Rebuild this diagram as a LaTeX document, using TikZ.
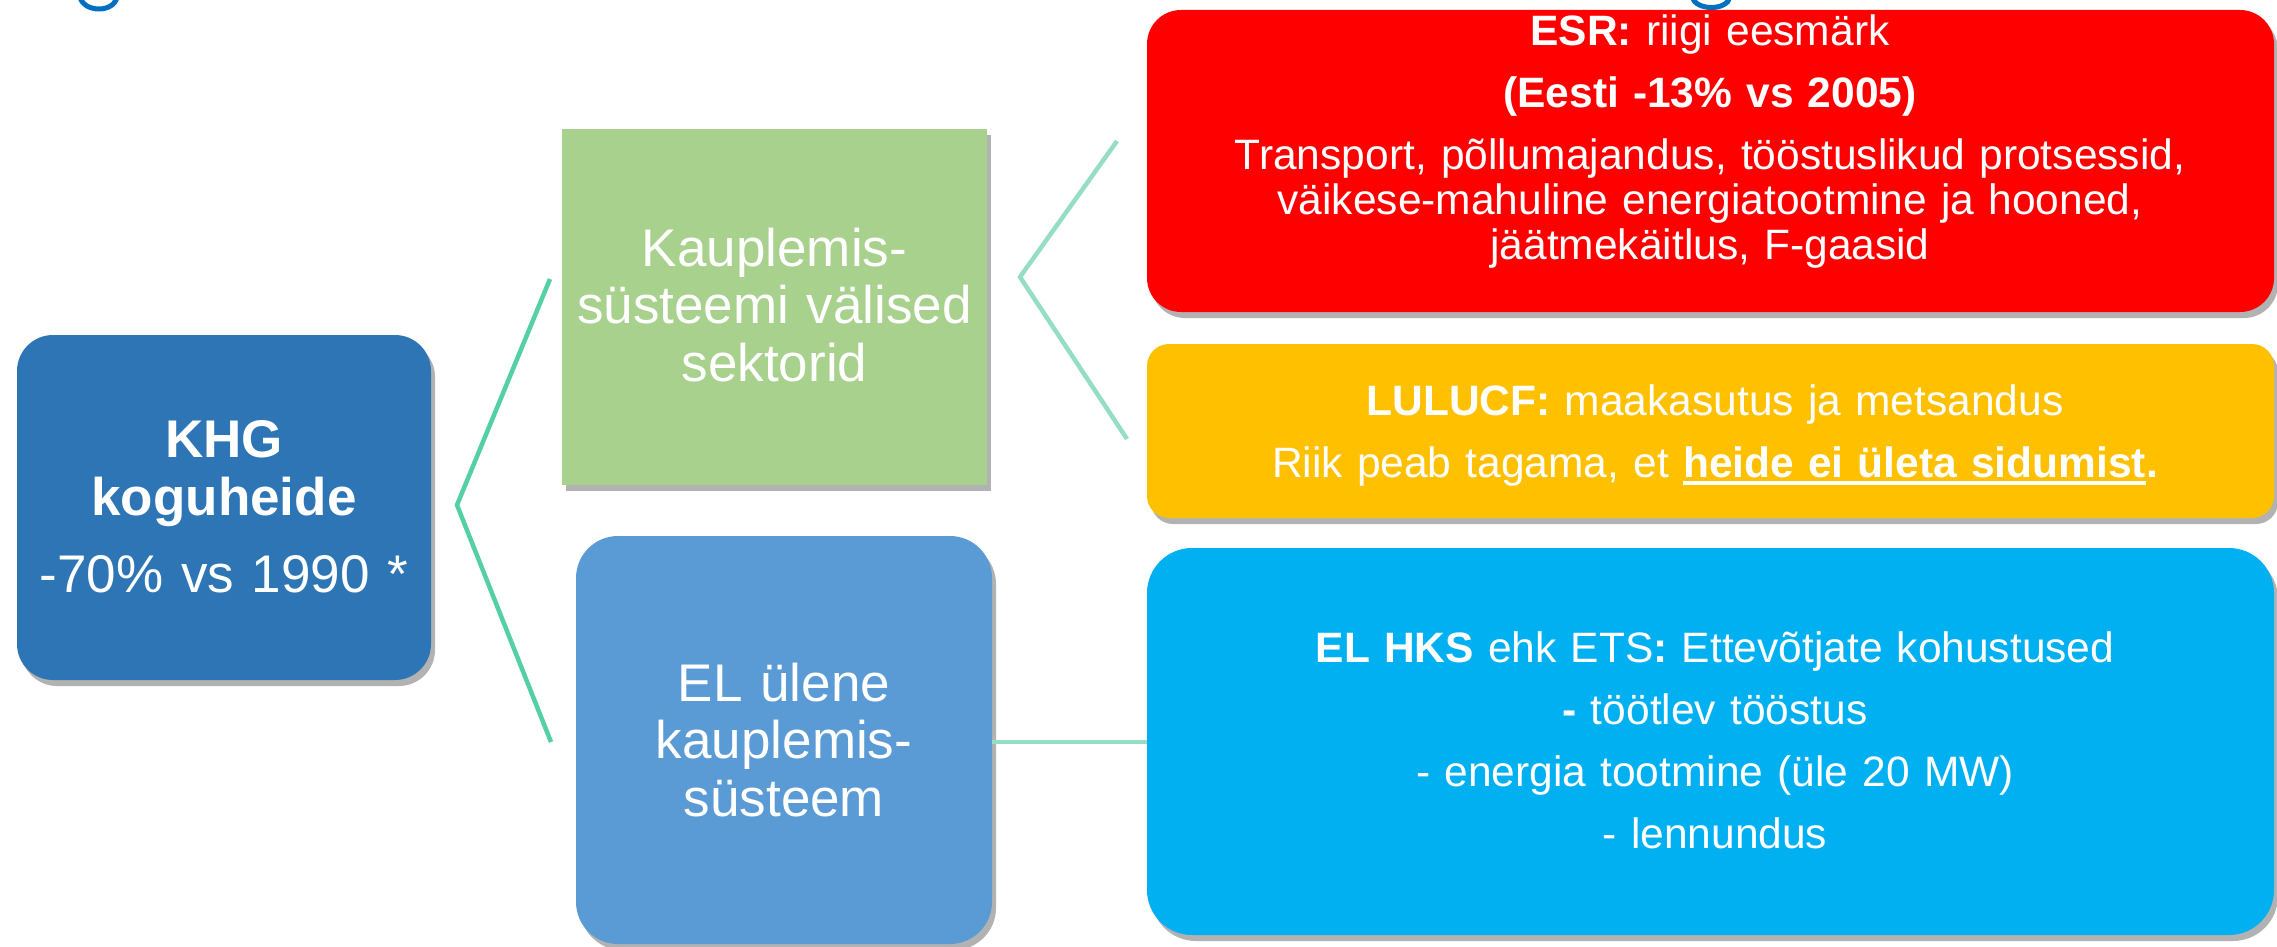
\documentclass[tikz,border=0pt]{standalone}
\usepackage{fontspec}
\setmainfont{Liberation Sans}
\usetikzlibrary{shadows}

\definecolor{khgblue}{HTML}{2E75B6}
\definecolor{valisgreen}{HTML}{A9D18E}
\definecolor{hksblue}{HTML}{5B9BD5}
\definecolor{esrred}{HTML}{FF0000}
\definecolor{lulucfgold}{HTML}{FFC000}
\definecolor{etscyan}{HTML}{00B0F0}
\definecolor{linkdark}{HTML}{55D0A2}
\definecolor{linklight}{HTML}{96DEC3}
\definecolor{titleblue}{HTML}{0070C0}

% underline with a fixed offset below the baseline
\newcommand{\undl}[1]{\setbox0\hbox{#1}\rlap{\rule[-8pt]{\wd0}{4pt}}\box0}

\begin{document}
\begin{tikzpicture}[x=1pt, y=-1pt,
    panel/.style={inner sep=0pt, drop shadow={shadow xshift=4pt, shadow yshift=-6pt, opacity=0.3, fill=black}},
    bigtext/.style={text=white, font=\fontsize{53}{57.5}\selectfont, align=center, text width=420pt, anchor=base, inner sep=0pt},
    smalltext/.style={text=white, font=\fontsize{42.5}{45}\selectfont, align=center, text width=1080pt, anchor=base, inner sep=0pt},
    link/.style={line width=4.5pt}]
    \useasboundingbox (0,0) rectangle (2277,947);

    % title letters cut off at the top edge
    \draw[titleblue, line width=5pt] (80,-3) .. controls (84,13) and (114,13) .. (117,-3);
    \draw[titleblue, line width=5pt] (1692,-3) .. controls (1696,11) and (1727,11) .. (1730,-3);

    % boxes
    \node[panel, fill=khgblue, rounded corners=36pt, minimum width=414pt, minimum height=345pt] (khg) at (224,507.5) {};
    \node[panel, fill=valisgreen, minimum width=425pt, minimum height=356pt] (valis) at (774.5,307) {};
    \node[panel, fill=hksblue, rounded corners=42pt, minimum width=416pt, minimum height=408pt] (hks) at (784,740) {};
    \node[panel, fill=esrred, rounded corners=34pt, minimum width=1127pt, minimum height=302pt] (esr) at (1710.5,161) {};
    \node[panel, fill=lulucfgold, rounded corners=22pt, minimum width=1127pt, minimum height=174pt] (lulucf) at (1710.5,431) {};
    \node[panel, fill=etscyan, rounded corners=45pt, minimum width=1127pt, minimum height=387pt] (ets) at (1710.5,741.5) {};

    % brackets and link
    \coordinate (lt) at (550,279);
    \coordinate (lv) at (457,505);
    \coordinate (lb) at (551,742);
    \coordinate (rt) at (1117,141);
    \coordinate (rv) at (1020,277);
    \coordinate (rb) at (1127,439);
    \draw[link, linkdark] (lt) -- (lv) -- (lb);
    \draw[link, linklight] (rt) -- (rv) -- (rb);
    \draw[link, linklight] (hks.east |- lb) -- (ets.west |- lb);

    % texts
    \node[bigtext] (khgtxt) at (224,457.5) {\textbf{KHG}\\ \textbf{koguheide}\\[19.5pt] -70\% vs 1990 *};
    \node[bigtext] (valistxt) at (774.5,266) {Kauplemis-\\ süsteemi välised\\ sektorid};
    \node[bigtext] (hkstxt) at (784,701) {EL ülene\\ kauplemis-\\ süsteem};
    \node[smalltext] (esrtxt) at (1710,46) {\textbf{ESR:} riigi eesmärk\\[17pt] \textbf{(Eesti -13\% vs 2005)}\\[17pt] Transport, põllumajandus, tööstuslikud protsessid,\\ väikese-mahuline energiatootmine ja hooned,\\ jäätmekäitlus, F-gaasid};
    \node[smalltext] (lulucftxt) at (1715,415) {\textbf{LULUCF:} maakasutus ja metsandus\\[17pt] Riik peab tagama, et \textbf{\undl{heide ei ületa sidumist}.}};
    \node[smalltext] (etstxt) at (1715,662) {\textbf{EL HKS} ehk ETS\textbf{:} Ettevõtjate kohustused\\[17pt] \textbf{-} töötlev tööstus\\[17pt] - energia tootmine (üle 20 MW)\\[17pt] - lennundus};
\end{tikzpicture}
\end{document}
